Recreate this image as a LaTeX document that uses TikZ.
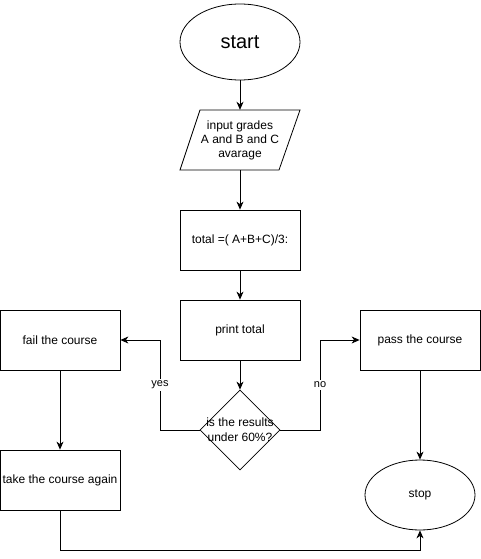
\documentclass[tikz,border=0pt]{standalone}
\usepackage{fontspec}
\setmainfont{Liberation Sans}
\usetikzlibrary{shapes.geometric,arrows.meta}
\begin{document}
\begin{tikzpicture}[x=1pt,y=-1pt,
  every node/.style={font=\fontsize{12}{14}\selectfont, inner sep=0pt},
  box/.style={draw, line width=0.8pt, minimum width=120pt, minimum height=60pt, align=center},
  oval/.style={draw, ellipse, line width=0.8pt, align=center},
  dia/.style={draw, diamond, line width=0.8pt, minimum width=80pt, minimum height=80pt, aspect=1},
  conn/.style={line width=0.8pt, -{Stealth[length=8pt,width=7pt,inset=2.5pt]}},
  lab/.style={fill=white, inner sep=1.5pt, font=\fontsize{11}{13}\selectfont}]
\useasboundingbox (0,0) rectangle (481,559);
\node[oval, minimum width=120pt, minimum height=76pt, font=\fontsize{20}{24}\selectfont] (start) at (240,42) {start};
\node[minimum width=100pt, minimum height=60pt, align=center] (input) at (240,140) {input grades\\A and B and C\\avarage};
\draw[line width=0.8pt] (200,110) -- (300,110) -- (279,170) -- (180,170) -- cycle;
\node[box] (total) at (240,240) {total =( A+B+C)/3:};
\node[box] (print) at (240,330) {print total};
\node[dia] (dec) at (240,430) {};
\node[align=center, font=\fontsize{12}{15}\selectfont] (dectext) at (240,430) {is the results\\under 60\%?};
\node[box] (fail) at (60,340) {fail the course};
\node[box] (pass) at (420,340) {pass the course};
\node[box] (again) at (60,480) {take the course again};
\node[oval, minimum width=110pt, minimum height=70pt] (stop) at (420,495) {stop};
\coordinate (yl) at (160,430);
\coordinate (nr) at (320,430);
\coordinate (bl) at (60,550);
\coordinate (br) at (420,550);
\draw[conn] (start) -- (input);
\draw[conn] (input) -- (total);
\draw[conn] (total) -- (print);
\draw[conn] (print) -- (dec);
\draw[conn] (dec.west) -- (yl) |- (fail.east) node[lab, pos=0.25] {yes};
\draw[conn] (dec.east) -- (nr) |- (pass.west) node[lab, pos=0.25] {no};
\draw[conn] (fail) -- (again);
\draw[conn] (pass) -- (stop);
\draw[conn] (again.south) -- (bl) -- (br) -- (stop.south);
\end{tikzpicture}
\end{document}
